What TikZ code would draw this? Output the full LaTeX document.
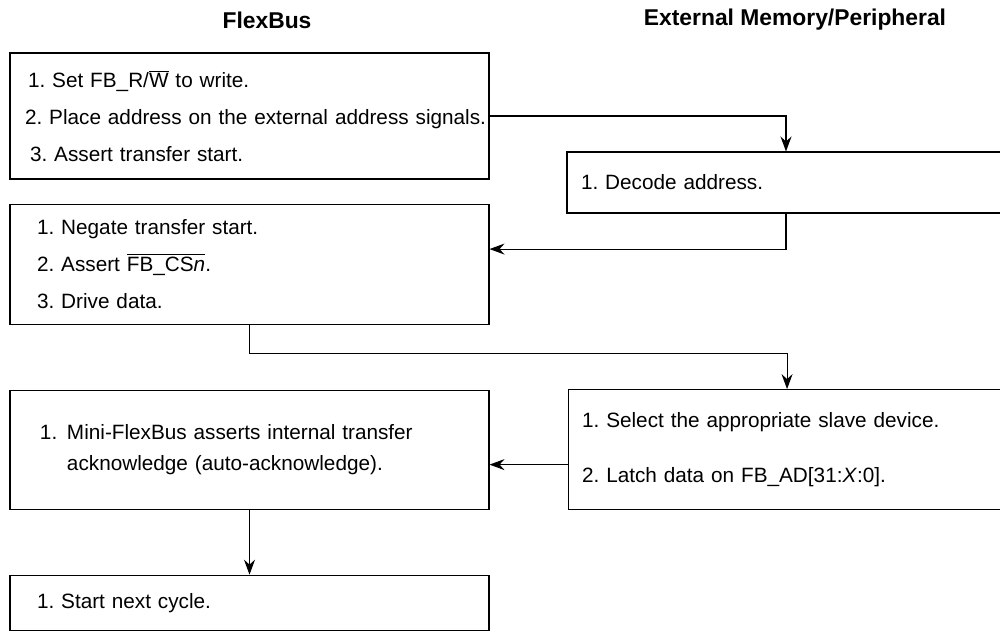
\documentclass[tikz,border=0pt]{standalone}
\usepackage{fontspec}
\setmainfont{Liberation Sans}
\usetikzlibrary{arrows.meta, positioning}

\begin{document}
\begin{tikzpicture}[
  node distance=1.3cm and 1.56cm,
  fbbox/.style={rectangle, draw, line width=0.6pt, text width=8.5cm, inner xsep=0.54cm,
    align=left, font=\fontsize{11.8}{21}\selectfont\frenchspacing},
  extbox/.style={rectangle, draw, line width=0.6pt, text width=8.2cm, inner xsep=0.28cm,
    align=left, font=\fontsize{11.8}{21}\selectfont\frenchspacing},
  heading/.style={font=\fontsize{13}{15}\selectfont\bfseries},
  arrow/.style={-{Stealth[length=3mm, width=2.2mm, inset=1mm]}, line width=0.6pt}
]
\useasboundingbox (0,0) rectangle (20,-12.66);

\node[heading] (fbhead) at (5.34,-0.4) {FlexBus};
\node[heading] (exthead) at (15.9,-0.4) {External Memory/Peripheral};

\node[fbbox, text width=8.98cm, inner xsep=0.3cm, minimum height=2.52cm] (setw) at (4.99,-2.32)
  {\hspace*{0.06cm}1. Set FB\_R/$\overline{\mbox{W}}$ to write.\\
   \mbox{2. Place address on the external address signals.}\\
   \hspace*{0.1cm}3. Assert transfer start.};

\node[extbox, minimum height=1.22cm] (decode) at (15.72,-3.65)
  {1. Decode address.};

\node[fbbox, minimum height=2.4cm, below=0.48cm of setw] (negate)
  {1. Negate transfer start.\\
   2. Assert $\overline{\mbox{FB\_CS\textit{n}}}$.\\
   3. Drive data.};

\node[fbbox, text width=8.38cm, inner xsep=0.6cm, minimum height=2.38cm,
  font=\fontsize{11.8}{18}\selectfont\frenchspacing, below=of negate] (ack)
  {\makebox[0.54cm][l]{1.}Mini-FlexBus asserts internal transfer\\
   \hspace*{0.54cm}acknowledge (auto-acknowledge).};

\node[extbox, minimum height=2.4cm, right=of ack] (latch)
  {1. Select the appropriate slave device.\\[10pt]
   2. Latch data on FB\_AD[31:\textit{X}:0].};

\node[fbbox, minimum height=1.1cm, below=of ack] (next)
  {1. Start next cycle.};

\draw[arrow] (setw.east) -| (decode.north);
\draw[arrow] (decode.south) |- ([yshift=3mm]negate.east);
\draw[arrow] (negate.south) -- ++(0,-0.58) -| (latch.north);
\draw[arrow] ([yshift=-3mm]latch.west) -- ([yshift=-3mm]ack.east);
\draw[arrow] (ack.south) -- (next.north);
\end{tikzpicture}
\end{document}
